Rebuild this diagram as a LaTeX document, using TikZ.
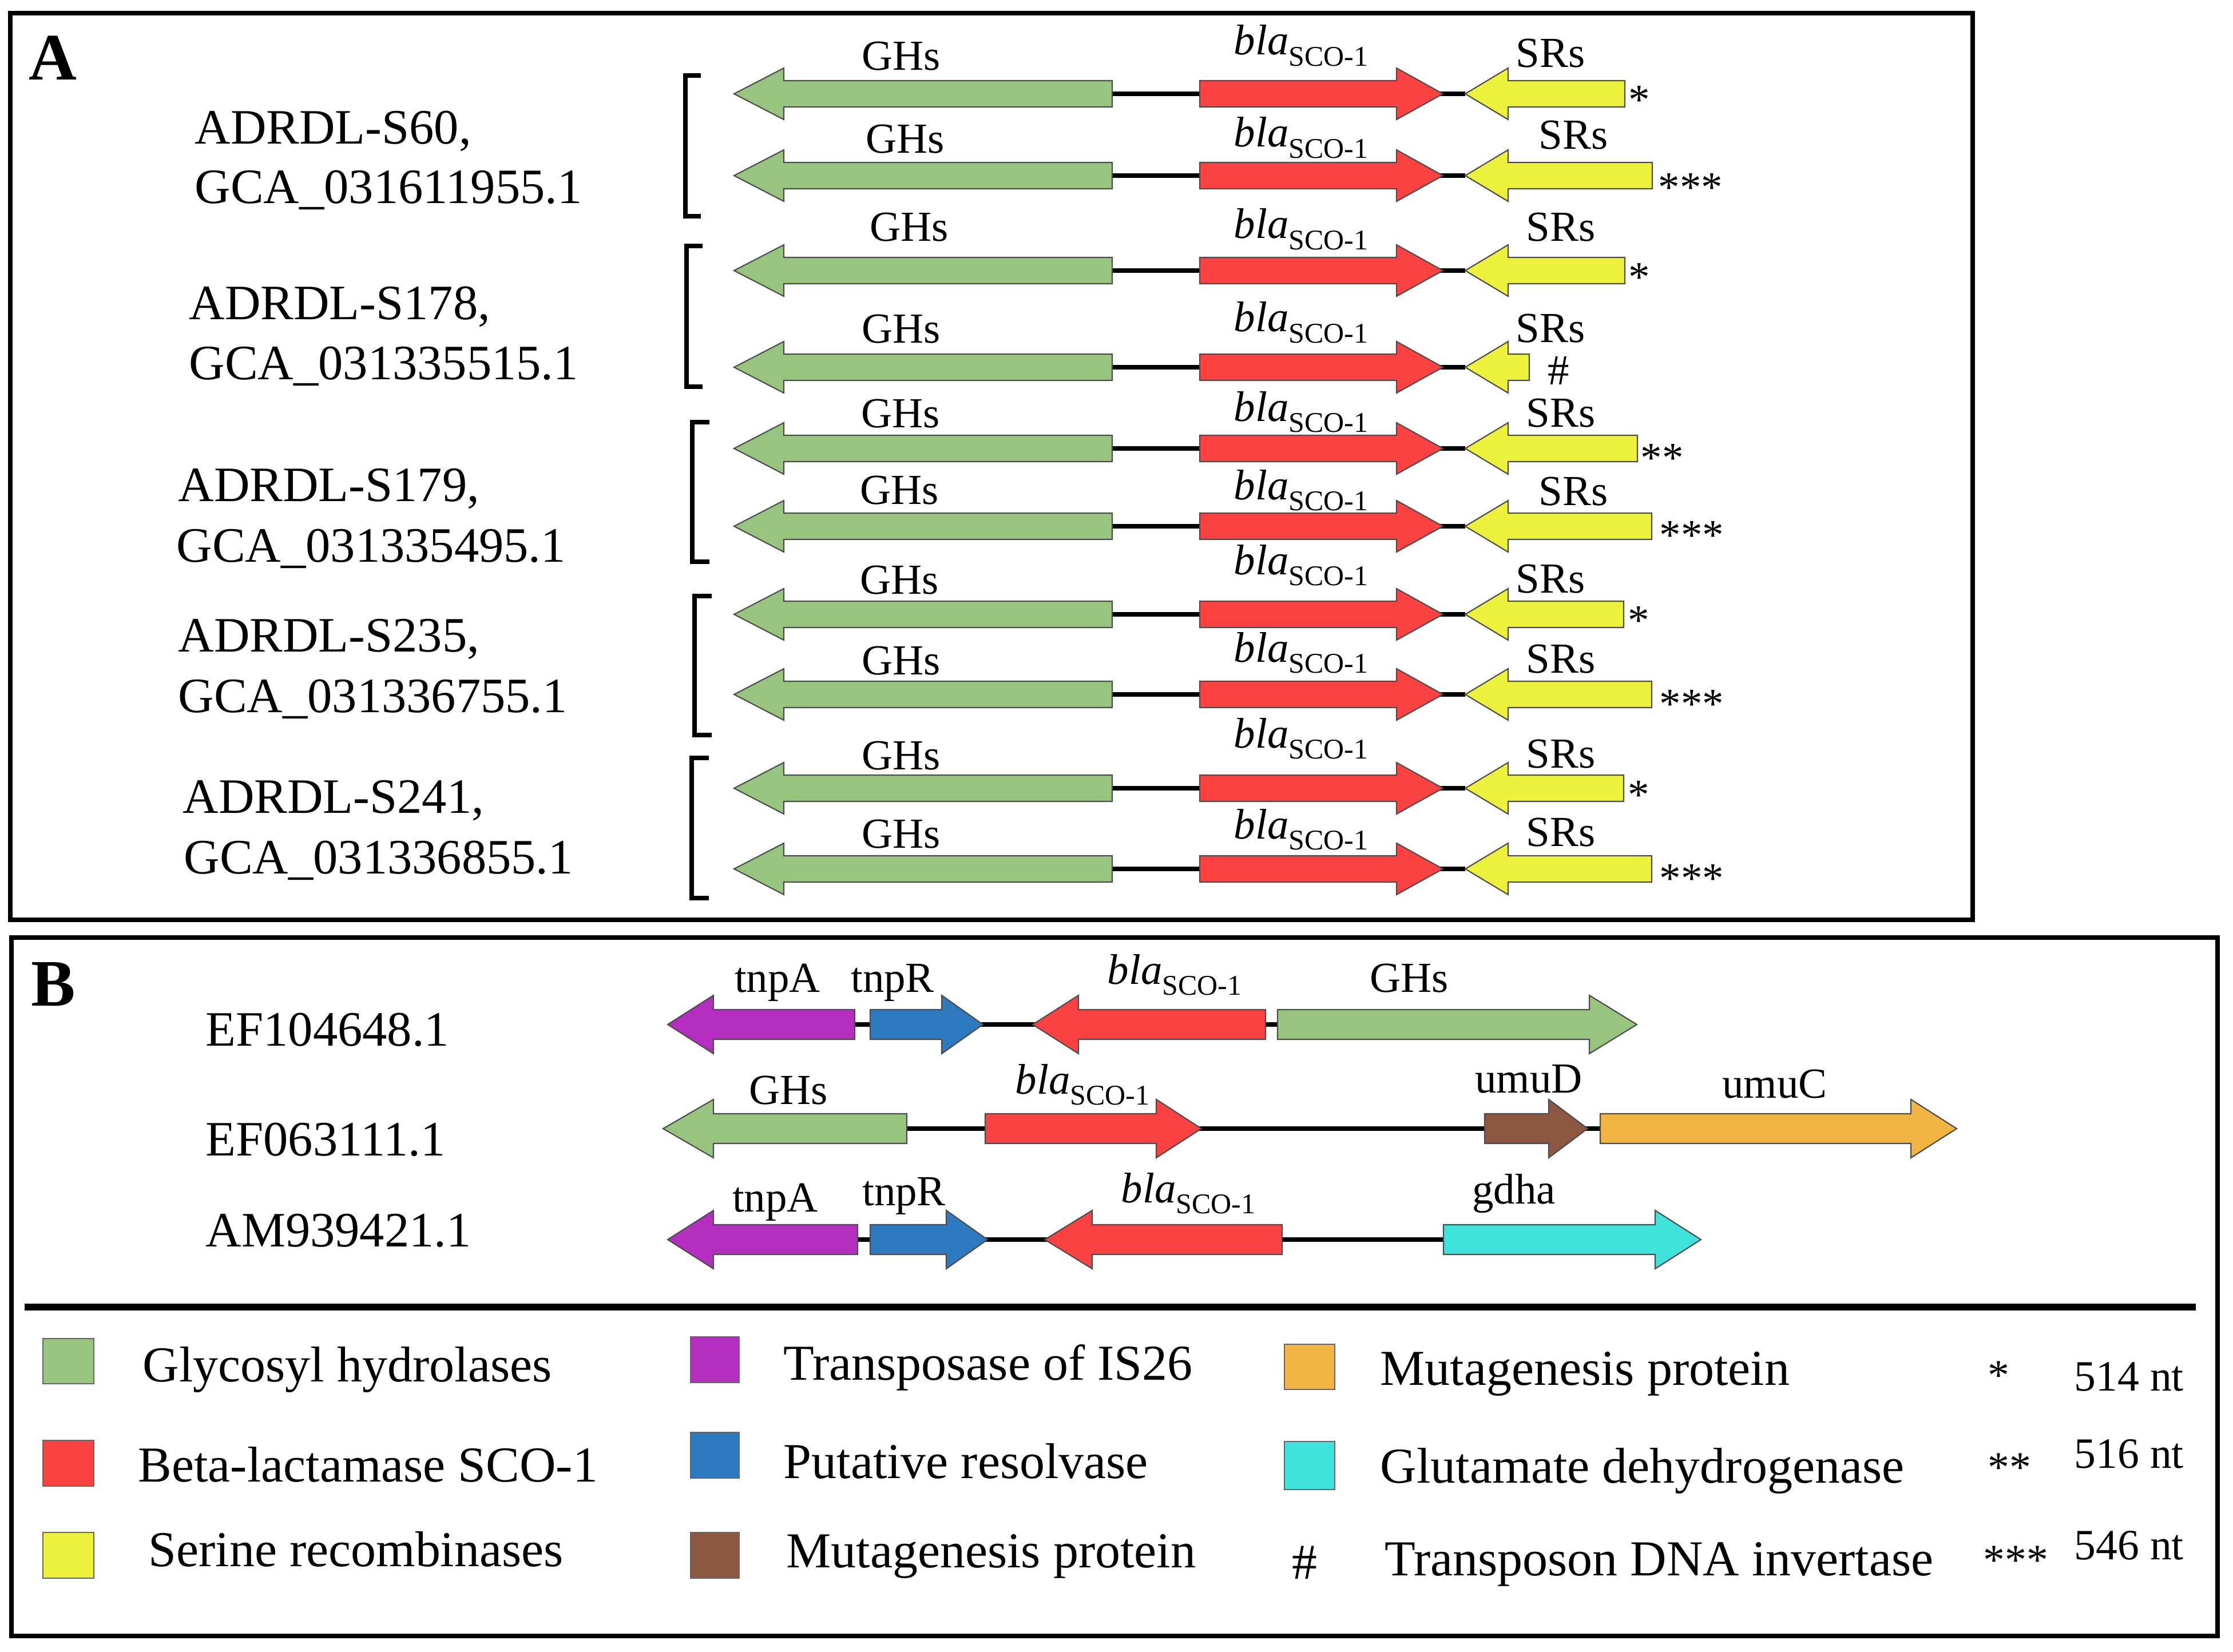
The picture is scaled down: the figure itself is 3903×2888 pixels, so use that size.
\documentclass[tikz,border=0pt]{standalone}
\usepackage{fontspec}
\setmainfont{Liberation Serif}
\definecolor{cgh}{HTML}{97C47E}
\definecolor{cbla}{HTML}{FB4242}
\definecolor{csr}{HTML}{ECF23C}
\definecolor{ctnpa}{HTML}{B42EC0}
\definecolor{ctnpr}{HTML}{2E7AC0}
\definecolor{cumud}{HTML}{8C5842}
\definecolor{cumuc}{HTML}{F1B443}
\definecolor{cgdh}{HTML}{3FE3DC}
\newcommand\bh{23}
\newcommand\hh{45}
% right-pointing gene: fill, tail x, tip x, y, head length
\newcommand\rgene[5]{\filldraw[gene,fill=#1] (#2,{#4-\bh}) -- ({#3-#5},{#4-\bh}) -- ({#3-#5},{#4-\hh}) -- (#3,#4) -- ({#3-#5},{#4+\hh}) -- ({#3-#5},{#4+\bh}) -- (#2,{#4+\bh}) -- cycle;}
% left-pointing gene: fill, tail x (right), tip x (left), y, head length
\newcommand\lgene[5]{\filldraw[gene,fill=#1] (#2,{#4-\bh}) -- ({#3+#5},{#4-\bh}) -- ({#3+#5},{#4-\hh}) -- (#3,#4) -- ({#3+#5},{#4+\hh}) -- ({#3+#5},{#4+\bh}) -- (#2,{#4+\bh}) -- cycle;}
\newcommand\blasco{\textit{bla}\raisebox{-5.5pt}{\fontsize{14.2}{15}\selectfont SCO-1}}
% panel A row: idx, y, yellow end, GH x, GH base, bla base, SR x, SR base
\newcommand\arow[8]{%
  \draw[conn] (1944,#2) -- (2561,#2);
  \lgene{cgh}{1944}{1283}{#2}{87}
  \rgene{cbla}{2097}{2522}{#2}{81}
  \lgene{csr}{#3}{2561}{#2}{75}
  \node[glab] (gh#1) at (#4,#5) {GHs};
  \node[glab] (bl#1) at (2274,#6) {\blasco};
  \node[glab] (sr#1) at (#7,#8) {SRs};
}
\newcommand\bracketat[4]{\draw[brk] (#4,#2) -- (#1,#2) -- (#1,#3) -- (#4,#3);}
\tikzset{
  gene/.style={draw=black!70, line width=0.6pt, line join=miter},
  conn/.style={line width=2.1pt, draw=black},
  glab/.style={inner sep=0pt, anchor=base, font=\fontsize{21.3}{24}\selectfont},
  mk/.style={inner sep=0pt, anchor=base west, font=\fontsize{21.3}{24}\selectfont},
  idlab/.style={inner sep=0pt, anchor=base west, font=\fontsize{24.6}{28}\selectfont},
  leg/.style={inner sep=0pt, anchor=base west, font=\fontsize{25}{28}\selectfont},
  nt/.style={inner sep=0pt, anchor=base west, font=\fontsize{21.5}{24}\selectfont},
  brk/.style={line width=2.3pt, line cap=butt, line join=miter},
  frame/.style={line width=2.3pt, draw=black},
  swatch/.style={draw=black!60, line width=0.6pt},
  panel/.style={inner sep=0pt, anchor=base west, font=\bfseries\fontsize{33}{36}\selectfont}
}
\begin{document}
\begin{tikzpicture}[x=0.01cm, y=-0.01cm]
\useasboundingbox (0,0) rectangle (3903,2888);
\fill[white] (0,0) rectangle (3903,2888);

% ---------- Panel A ----------
\draw[frame] (18,23) rectangle (3448,1608);
\node[panel] (pa) at (50,140) {A};

\node[idlab] (n1a) at (340,252) {ADRDL-S60,};
\node[idlab] (n1b) at (340,356) {GCA\_031611955.1};
\node[idlab] (n2a) at (330,558) {ADRDL-S178,};
\node[idlab] (n2b) at (330,663) {GCA\_031335515.1};
\node[idlab] (n3a) at (311,876) {ADRDL-S179,};
\node[idlab] (n3b) at (308,982) {GCA\_031335495.1};
\node[idlab] (n4a) at (311,1139) {ADRDL-S235,};
\node[idlab] (n4b) at (311,1245) {GCA\_031336755.1};
\node[idlab] (n5a) at (319,1421) {ADRDL-S241,};
\node[idlab] (n5b) at (321,1527) {GCA\_031336855.1};

\bracketat{1198}{132}{378}{1225}
\bracketat{1200}{430}{676}{1228}
\bracketat{1210}{738}{982}{1240}
\bracketat{1214}{1042}{1285}{1244}
\bracketat{1209}{1325}{1570}{1239}

\arow{1}{164}{2840}{1575}{123}{96}{2710}{118}
\arow{2}{307}{2888}{1582}{268}{257}{2750}{261}
\arow{3}{473}{2840}{1589}{422}{417}{2728}{422}
\arow{4}{642}{2673}{1575}{600}{580}{2710}{598}
\arow{5}{784}{2862}{1574}{747}{736}{2728}{746}
\arow{6}{920}{2887}{1572}{881}{873}{2750}{883}
\arow{7}{1074}{2838}{1572}{1038}{1004}{2710}{1036}
\arow{8}{1214}{2887}{1575}{1179}{1157}{2728}{1176}
\arow{9}{1378}{2838}{1575}{1345}{1307}{2728}{1342}
\arow{10}{1519}{2887}{1575}{1482}{1466}{2728}{1479}

\node[mk] (m1) at (2846,200) {*};
\node[mk] (m2) at (2898,353) {***};
\node[mk] (m3) at (2846,510) {*};
\node[glab] (m4) at (2724,672) {\#};
\node[mk] (m5) at (2867,825) {**};
\node[mk] (m6) at (2900,960) {***};
\node[mk] (m7) at (2845,1109) {*};
\node[mk] (m8) at (2900,1255) {***};
\node[mk] (m9) at (2845,1414) {*};
\node[mk] (m10) at (2900,1560) {***};

% ---------- Panel B ----------
\draw[frame] (20,1639) rectangle (3876,2860);
\node[panel] (pb) at (54,1758) {B};

\node[idlab] (e1) at (359,1828) {EF104648.1};
\node[idlab] (e2) at (359,2020) {EF063111.1};
\node[idlab] (e3) at (359,2179) {AM939421.1};

\renewcommand\bh{26}
\renewcommand\hh{51}
% row B1
\draw[conn] (1494,1791) -- (2233,1791);
\lgene{ctnpa}{1494}{1167}{1791}{80}
\rgene{ctnpr}{1521}{1718}{1791}{72}
\lgene{cbla}{2212}{1805}{1791}{80}
\rgene{cgh}{2233}{2861}{1791}{83}
\node[glab] (b1a) at (1359,1734) {tnpA};
\node[glab] (b1r) at (1560,1734) {tnpR};
\node[glab] (b1b) at (2053,1720) {\blasco};
\node[glab] (b1g) at (2463,1734) {GHs};
% row B2
\draw[conn] (1585,1973) -- (2797,1973);
\lgene{cgh}{1585}{1159}{1973}{88}
\rgene{cbla}{1722}{2100}{1973}{79}
\rgene{cumud}{2595}{2775}{1973}{68}
\rgene{cumuc}{2797}{3420}{1973}{80}
\node[glab] (b2g) at (1378,1930) {GHs};
\node[glab] (b2b) at (1892,1912) {\blasco};
\node[glab] (b2d) at (2672,1910) {umuD};
\node[glab] (b2c) at (3102,1919) {umuC};
% row B3
\draw[conn] (1499,2167) -- (2523,2167);
\lgene{ctnpa}{1499}{1167}{2167}{80}
\rgene{ctnpr}{1521}{1726}{2167}{72}
\lgene{cbla}{2241}{1826}{2167}{83}
\rgene{cgdh}{2523}{2973}{2167}{80}
\node[glab] (b3a) at (1355,2118) {tnpA};
\node[glab] (b3r) at (1580,2107) {tnpR};
\node[glab] (b3b) at (2077,2102) {\blasco};
\node[glab] (b3g) at (2646,2104) {gdha};

% separator
\draw[line width=3.4pt] (43,2285) -- (3838,2285);

% ---------- Legend ----------
\filldraw[swatch, fill=cgh] (75,2340) rectangle (164,2419);
\filldraw[swatch, fill=cbla] (75,2518) rectangle (164,2598);
\filldraw[swatch, fill=csr] (75,2679) rectangle (164,2759);
\filldraw[swatch, fill=ctnpa] (1207,2337) rectangle (1292,2417);
\filldraw[swatch, fill=ctnpr] (1207,2504) rectangle (1292,2584);
\filldraw[swatch, fill=cumud] (1207,2679) rectangle (1292,2759);
\filldraw[swatch, fill=cumuc] (2245,2350) rectangle (2333,2429);
\filldraw[swatch, fill=cgdh] (2245,2520) rectangle (2333,2604);

\node[leg] (l1) at (249,2415) {Glycosyl hydrolases};
\node[leg] (l2) at (241,2590) {Beta-lactamase SCO-1};
\node[leg] (l3) at (259,2738) {Serine recombinases};
\node[leg] (l4) at (1369,2412) {Transposase of IS26};
\node[leg] (l5) at (1369,2584) {Putative resolvase};
\node[leg] (l6) at (1374,2740) {Mutagenesis protein};
\node[leg] (l7) at (2412,2421) {Mutagenesis protein};
\node[leg] (l8) at (2412,2592) {Glutamate dehydrogenase};
\node[leg] (l9) at (2420,2754) {Transposon DNA invertase};
\node[leg, anchor=base] (l10) at (2280,2760) {\#};

\node[nt] (s1) at (3474,2429) {*};
\node[nt] (s2) at (3474,2590) {**};
\node[nt] (s3) at (3466,2752) {***};
\node[nt] (t1) at (3625,2431) {514 nt};
\node[nt] (t2) at (3625,2566) {516 nt};
\node[nt] (t3) at (3625,2726) {546 nt};
\end{tikzpicture}
\end{document}
